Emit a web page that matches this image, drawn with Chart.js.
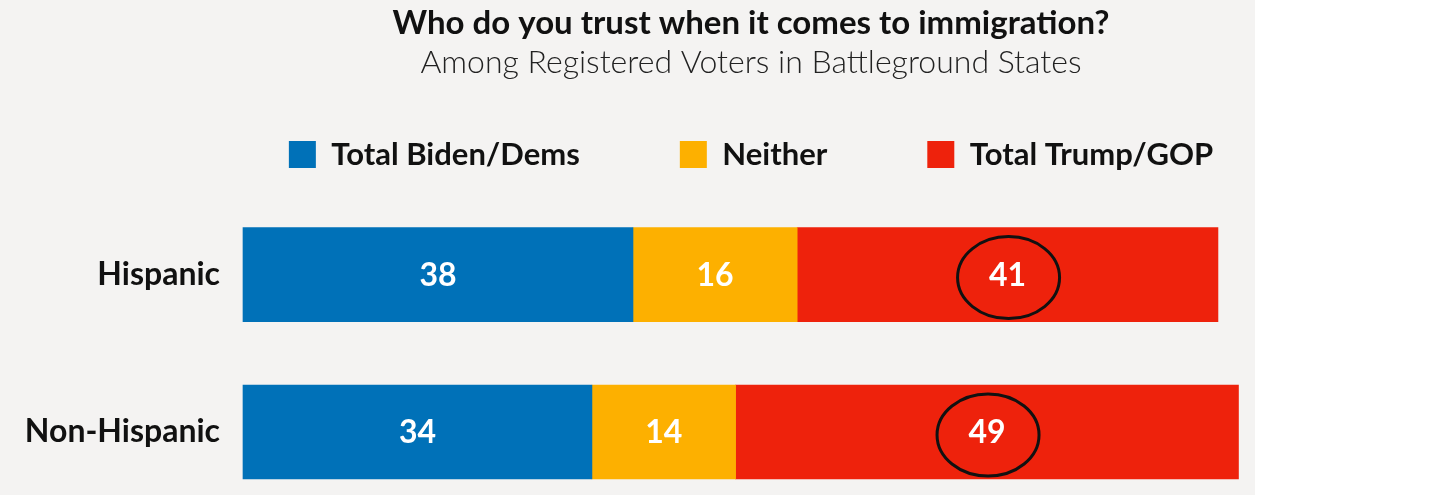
<!DOCTYPE html>
<html>
<head>
<meta charset="utf-8">
<title>Who do you trust when it comes to immigration?</title>
<script src="https://cdn.jsdelivr.net/npm/chart.js@4.4.1/dist/chart.umd.min.js"></script>
<style>
    html, body { margin: 0; padding: 0; background: #fff; }
    #panel { position: absolute; left: 0; top: 0; width: 1255px; height: 495px; background: #f4f3f2; }
    #wrap { position: absolute; left: 0; top: 0; width: 1456px; height: 495px; }
</style>
</head>
<body>
<div id="panel"></div>
<div id="wrap"><canvas id="myChart"></canvas></div>
<script>
const groups = ['Hispanic', 'Non-Hispanic'];
const seriesNames = ['Total Biden/Dems', 'Neither', 'Total Trump/GOP'];
const bidenValues = [38, 34];
const neitherValues = [16, 14];
const trumpValues = [41, 49];
const seriesColors = ['#0071b8', '#fdb000', '#ee220c'];
const circledSeries = 'Total Trump/GOP';

const FONT = 'Lato, "Open Sans", sans-serif';

// white numbers in the middle of each segment, ring round the circled ones
const valueLabels = {
    id: 'valueLabels',
    afterDatasetsDraw(chart) {
        const ctx = chart.ctx;
        ctx.save();
        chart.data.datasets.forEach((ds, i) => {
            const meta = chart.getDatasetMeta(i);
            meta.data.forEach((bar, j) => {
                const cx = (bar.x + bar.base) / 2;
                const cy = bar.y;
                ctx.fillStyle = '#fff';
                ctx.font = 'bold 32px ' + FONT;
                ctx.textAlign = 'center';
                ctx.textBaseline = 'middle';
                ctx.fillText(ds.data[j], cx, cy + 1);
                if (ds.label === circledSeries) {
                    ctx.beginPath();
                    ctx.ellipse(cx + 1, cy + 3, 51, 41, 0, 0, Math.PI * 2);
                    ctx.lineWidth = 3;
                    ctx.strokeStyle = '#111';
                    ctx.stroke();
                }
            });
        });
        ctx.restore();
    }
};

// keep the legend on one row, a bit wider than the bars, with room under it
const legendLayout = {
    id: 'legendLayout',
    beforeInit(chart) {
        const fitValue = chart.legend.fit;
        chart.legend.fit = function fit() {
            this.maxWidth = Math.max(this.maxWidth, 1300);
            fitValue.bind(chart.legend)();
            this.height += 90;
        };
    },
    afterLayout(chart) {
        const lg = chart.legend;
        lg.left -= 80;
        lg.right += 80;
        lg.width = lg.right - lg.left;
    }
};

const seriesValues = [bidenValues, neitherValues, trumpValues];

const ctx = document.getElementById('myChart').getContext('2d');
const chart = new Chart(ctx, {
    type: 'bar',
    data: {
        labels: groups,
        datasets: seriesNames.map((name, i) => ({
            label: name,
            data: seriesValues[i],
            backgroundColor: seriesColors[i],
            borderWidth: 0,
            barThickness: 94,
            clip: false
        }))
    },
    options: {
        indexAxis: 'y',
        responsive: true,
        maintainAspectRatio: false,
        animation: false,
        layout: { padding: { left: 0, right: 197, top: 0, bottom: 63 } },
        scales: {
            x: { stacked: true, min: 0, max: 99, display: false },
            y: {
                stacked: true,
                offset: false,
                grid: { display: false },
                border: { display: false },
                ticks: {
                    padding: 15,
                    color: '#111',
                    font: { family: FONT, size: 32, weight: 'bold' }
                },
                afterFit(scale) { scale.width = 243; }
            }
        },
        plugins: {
            title: {
                display: true,
                text: 'Who do you trust when it comes to immigration?',
                color: '#111',
                fullSize: false,
                font: { family: FONT, size: 33, weight: 'bold' },
                padding: { top: 4, bottom: 0 }
            },
            subtitle: {
                display: true,
                text: 'Among Registered Voters in Battleground States',
                color: '#222',
                fullSize: false,
                font: { family: FONT, size: 32, weight: '300' },
                padding: { top: 0, bottom: -43 }
            },
            legend: {
                position: 'top',
                fullSize: false,
                labels: {
                    boxWidth: 27,
                    boxHeight: 27,
                    padding: 100,
                    color: '#111',
                    font: { family: FONT, size: 31, weight: 'bold' }
                }
            },
            tooltip: { enabled: false }
        }
    },
    plugins: [valueLabels, legendLayout]
});
</script>
</body>
</html>
